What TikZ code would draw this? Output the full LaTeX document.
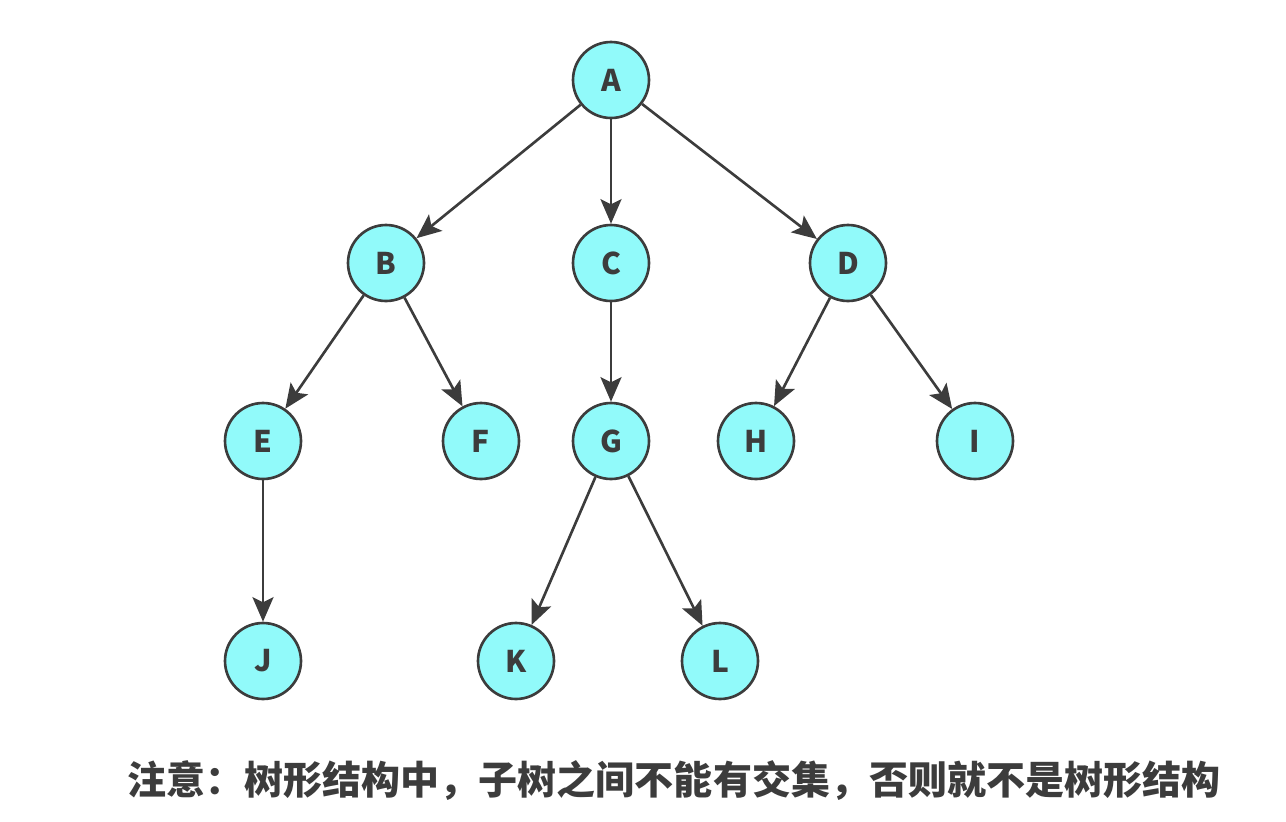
\documentclass[tikz,border=0pt]{standalone}
\usepackage{fontspec}
\setmainfont{Noto Sans CJK SC}
\usetikzlibrary{arrows.meta}
\definecolor{nodefill}{RGB}{145,250,250}
\definecolor{inkgray}{RGB}{60,60,60}

\begin{document}
\begin{tikzpicture}[
  x=0.02cm, y=-0.02cm,
  tnode/.style={draw=inkgray, circle, fill=nodefill, line width=1.5pt, minimum size=1.52cm, inner sep=0pt, font=\fontsize{17}{17}\selectfont\bfseries, text=inkgray},
  edge/.style={draw=inkgray, line width=1.5pt, -{Stealth[length=14pt, width=12pt, inset=3pt]}},
  note/.style={font=\fontsize{22.2}{24}\selectfont\bfseries, text=inkgray}
]
\useasboundingbox (0,0) rectangle (1286,822);
\node[tnode] (A) at (611,80)  {A};
\node[tnode] (B) at (386,263) {B};
\node[tnode] (C) at (611,263) {C};
\node[tnode] (D) at (848,263) {D};
\node[tnode] (E) at (263,441) {E};
\node[tnode] (F) at (481,441) {F};
\node[tnode] (G) at (611,441) {G};
\node[tnode] (H) at (756,441) {H};
\node[tnode] (I) at (975,441) {I};
\node[tnode] (J) at (263,661) {J};
\node[tnode] (K) at (516,661) {K};
\node[tnode] (L) at (720,661) {L};
\node[note] (txt) at (674,781) {注意：树形结构中，子树之间不能有交集，否则就不是树形结构};

\draw[edge] (A) -- (B);
\draw[edge] (A) -- (C);
\draw[edge] (A) -- (D);
\draw[edge] (B) -- (E);
\draw[edge] (B) -- (F);
\draw[edge] (C) -- (G);
\draw[edge] (D) -- (H);
\draw[edge] (D) -- (I);
\draw[edge] (E) -- (J);
\draw[edge] (G) -- (K);
\draw[edge] (G) -- (L);
\end{tikzpicture}
\end{document}
